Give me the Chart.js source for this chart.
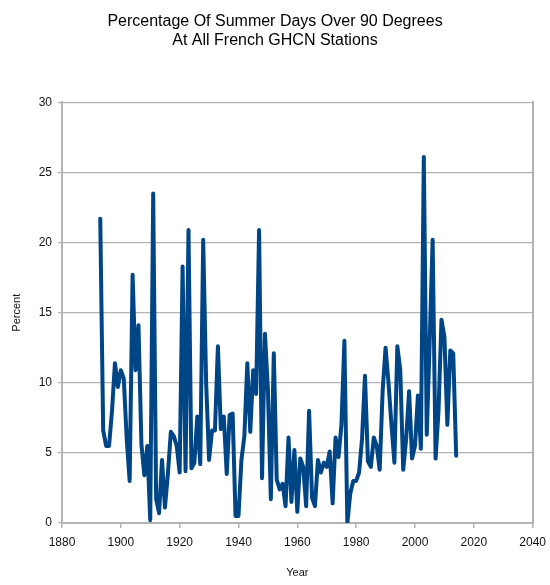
<!DOCTYPE html>
<html>
<head>
<meta charset="utf-8">
<script src="https://cdn.jsdelivr.net/npm/chart.js@4"></script>
<style>
  body { margin: 0; background: #fff; }
  #chart { display: block; }
</style>
</head>
<body>
<canvas id="chart" width="550" height="585"></canvas>
<script>
// percentage of summer days over 90F, one value per year 1893-2014
const firstYear = 1893;
const percent = [
    21.7, 6.6, 5.5, 5.5, 8.0, 11.4, 9.7, 10.9, 10.3, 6.0,     // 1893-1902
    3.0, 17.7, 10.9, 14.1, 5.6, 3.4, 5.5, 0.2, 23.5, 1.7,     // 1903-1912
    0.7, 4.5, 1.1, 3.5, 6.5, 6.2, 5.5, 3.6, 18.3, 3.7,        // 1913-1922
    20.9, 3.9, 4.3, 7.6, 4.2, 20.2, 10.0, 4.5, 6.6, 6.6,      // 1923-1932
    12.6, 6.7, 7.6, 3.5, 7.7, 7.8, 0.5, 0.5, 4.5, 6.2,        // 1933-1942
    11.4, 6.5, 10.9, 9.2, 20.9, 3.2, 13.5, 9.5, 1.7, 12.1,    // 1943-1952
    3.1, 2.4, 2.8, 1.2, 6.1, 1.5, 5.2, 0.8, 4.6, 4.0,         // 1953-1962
    1.2, 8.0, 1.8, 1.2, 4.5, 3.6, 4.3, 4.0, 5.1, 1.4,         // 1963-1972
    6.1, 4.7, 7.0, 13.0, 0.0, 2.1, 3.0, 3.0, 3.6, 6.0,        // 1973-1982
    10.5, 4.4, 4.0, 6.1, 5.5, 3.8, 9.4, 12.5, 10.0, 7.0,      // 1983-1992
    4.3, 12.6, 10.9, 3.8, 6.0, 9.4, 4.6, 5.5, 9.1, 5.3,       // 1993-2002
    26.1, 6.3, 13.0, 20.2, 4.6, 8.0, 14.5, 13.3, 7.0, 12.3,   // 2003-2012
    12.1, 4.8                                                 // 2013-2014
];
const years = percent.map((v, i) => firstYear + i);

const titleLines = ['Percentage Of Summer Days Over 90 Degrees', 'At All French GHCN Stations'];
const xTicks = { min: 1880, max: 2040, step: 20 };
const yTicks = { min: 0, max: 30, step: 5 };

const gridGrey = '#b3b3b3';
Chart.defaults.font.family = "'Liberation Sans', Arial, sans-serif";
Chart.defaults.color = '#111';

const ctx = document.querySelector('#chart').getContext('2d');

new Chart(ctx, {
    type: 'line',
    data: {
        datasets: [{
            data: years.map((y, i) => ({ x: y, y: percent[i] })),
            borderColor: '#004586',
            borderWidth: 4,
            borderJoinStyle: 'round',
            borderCapStyle: 'round',
            pointRadius: 0,
            tension: 0,
            fill: false
        }]
    },
    options: {
        responsive: false,
        animation: false,
        layout: { padding: 0 },
        plugins: {
            legend: { display: false },
            tooltip: { enabled: false },
            title: {
                display: true,
                text: titleLines,
                color: '#000',
                font: { size: 16, weight: 'normal', lineHeight: 1.2 },
                padding: { top: 12, bottom: 52 }
            }
        },
        scales: {
            x: {
                type: 'linear',
                min: xTicks.min,
                max: xTicks.max,
                afterFit: (scale) => { scale.height = 62; },
                ticks: {
                    stepSize: xTicks.step,
                    font: { size: 12, lineHeight: 1.7 },
                    padding: 4,
                    callback: (v) => String(v)
                },
                grid: {
                    color: 'rgba(0,0,0,0)',
                    tickColor: gridGrey,
                    tickLength: 5,
                    lineWidth: 1.5
                },
                border: { color: gridGrey, width: 2 },
                title: {
                    display: true,
                    text: 'Year',
                    font: { size: 11 },
                    padding: { top: 5, bottom: 5 }
                }
            },
            y: {
                min: yTicks.min,
                max: yTicks.max,
                afterFit: (scale) => { scale.width = 62; },
                ticks: {
                    stepSize: yTicks.step,
                    font: { size: 12 },
                    padding: 6
                },
                grid: {
                    color: gridGrey,
                    tickLength: 4,
                    lineWidth: 1.2
                },
                border: { color: gridGrey, width: 2 },
                title: {
                    display: true,
                    text: 'Percent',
                    font: { size: 11 },
                    padding: { top: 10, bottom: 10 }
                }
            },
            // empty right axis: draws the right frame line and keeps the margin
            yRight: {
                position: 'right',
                min: 0,
                max: 1,
                afterFit: (scale) => { scale.width = 17; },
                ticks: { display: false },
                grid: { display: false },
                border: { color: gridGrey, width: 2 }
            }
        }
    }
});
</script>
</body>
</html>
